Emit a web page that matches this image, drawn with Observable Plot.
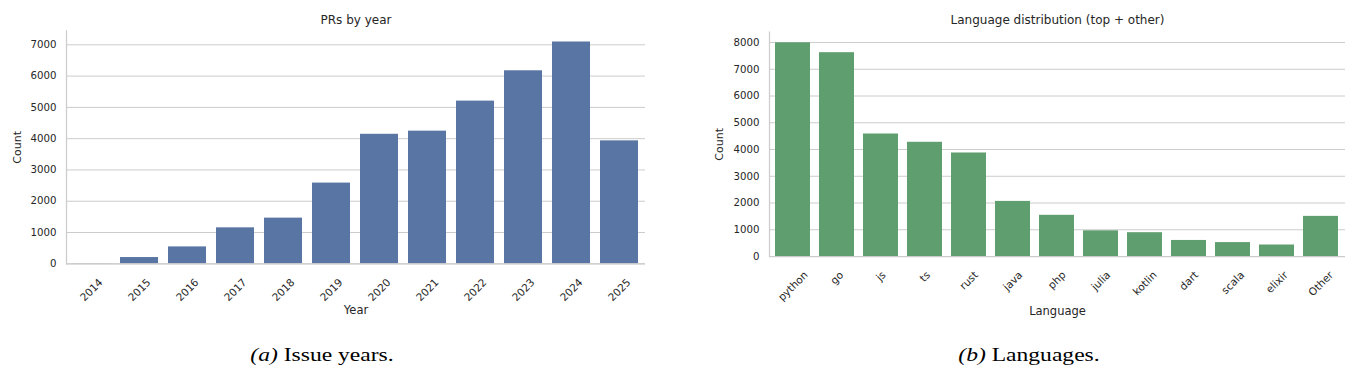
<!DOCTYPE html>
<html>
<head>
<meta charset="utf-8">
<script src="https://cdn.jsdelivr.net/npm/d3@7"></script>
<script src="https://cdn.jsdelivr.net/npm/@observablehq/plot@0.6"></script>
<style>
  html, body { margin: 0; padding: 0; background: #ffffff; }
  #root { position: relative; width: 1355px; height: 369px; overflow: hidden; background: #ffffff; }
  .panel { position: absolute; top: 0; }
  .caption { position: absolute; font-family: "Liberation Serif", "Times New Roman", serif; font-size: 19px; line-height: 1; color: #000; text-align: center; white-space: nowrap; transform: scaleX(1.24); transform-origin: center; }
</style>
</head>
<body>
<div id="root">
  <div id="left" class="panel" style="left:0px"></div>
  <div id="right" class="panel" style="left:680px"></div>
  <div class="caption" style="left:222px; top:345px; width:200px;"><i>(a)</i> Issue years.</div>
  <div class="caption" style="left:929px; top:345px; width:200px;"><i>(b)</i> Languages.</div>
</div>
<script>
// ---- data ----
const years = ["2014", "2015", "2016", "2017", "2018", "2019", "2020", "2021", "2022", "2023", "2024", "2025"];
const prCounts = [5, 200, 540, 1150, 1460, 2580, 4140, 4240, 5200, 6170, 7090, 3930];
const yearTicks = [0, 1000, 2000, 3000, 4000, 5000, 6000, 7000];

const languages = ["python", "go", "js", "ts", "rust", "java", "php", "julia", "kotlin", "dart", "scala", "elixir", "Other"];
const langCounts = [7990, 7620, 4580, 4270, 3870, 2060, 1540, 960, 890, 600, 520, 430, 1500];
const langTicks = [0, 1000, 2000, 3000, 4000, 5000, 6000, 7000, 8000];

const leftTitle = "PRs by year";
const rightTitle = "Language distribution (top + other)";

// ---- drawing ----
const TEXT = "#262626";
const SPINE = "#cccccc";
const FONT = "'DejaVu Sans'";
const tickFont = 10.2;
const xTickFont = 10.5;
const ctx = document.createElement("canvas").getContext("2d");
ctx.font = `${xTickFont}px 'DejaVu Sans'`;

function panel(o) {
  const data = o.cats.map((c, i) => ({cat: c, val: o.vals[i]}));
  const ymax = d3.max(o.vals) * 1.05;
  const xLabels = o.cats.map(c => {
    const w = ctx.measureText(c).width;
    const dy = 12.5 + (w + 1.15 * xTickFont) * Math.SQRT1_2 / 2;
    return Plot.text([c], {
      x: d => d, text: d => d, frameAnchor: "bottom", dy,
      rotate: -45, textAnchor: "middle", lineAnchor: "middle",
      fontSize: xTickFont, fill: TEXT
    });
  });
  return Plot.plot({
    width: o.width, height: o.height,
    marginTop: o.mt, marginBottom: o.mb, marginLeft: o.ml, marginRight: o.mr,
    style: `font-family: ${FONT}; font-size: 10px; background: #ffffff; color: ${TEXT};`,
    x: {domain: o.cats, paddingInner: 0.2, paddingOuter: 0.1, axis: null},
    y: {domain: [0, ymax]},
    marks: [
      Plot.gridY(o.ticks, {stroke: SPINE, strokeOpacity: 1, strokeWidth: 1}),
      Plot.barY(data, {x: "cat", y: "val", fill: o.color}),
      Plot.ruleY([0], {stroke: SPINE, strokeWidth: 1.25}),
      Plot.frame({anchor: "left", stroke: SPINE, strokeWidth: 1.25}),
      Plot.axisY(o.ticks, {tickSize: 0, tickPadding: 10, tickFormat: d => String(d), fontSize: tickFont, fill: TEXT, label: null}),
      ...xLabels,
      Plot.text([o.title], {text: d => d, frameAnchor: "top", dy: o.titleDy, lineAnchor: "middle", fontSize: 12, fill: TEXT}),
      Plot.text([o.xlabel], {text: d => d, frameAnchor: "bottom", dy: o.xlabelDy, lineAnchor: "middle", fontSize: 11.5, fill: TEXT}),
      Plot.text(["Count"], {text: d => d, frameAnchor: "left", dx: o.ylabelDx, rotate: -90, textAnchor: "middle", lineAnchor: "middle", fontSize: 11, fill: TEXT})
    ]
  });
}

document.getElementById("left").appendChild(panel({
  cats: years, vals: prCounts, ticks: yearTicks, color: "#5875a4",
  width: 680, height: 330, mt: 30.4, mb: 66.7, ml: 66, mr: 35,
  title: leftTitle, xlabel: "Year", titleDy: -11, xlabelDy: 47, ylabelDx: -49
}));

document.getElementById("right").appendChild(panel({
  cats: languages, vals: langCounts, ticks: langTicks, color: "#5f9e6e",
  width: 675, height: 330, mt: 31.6, mb: 74, ml: 89, mr: 10,
  title: rightTitle, xlabel: "Language", titleDy: -11.6, xlabelDy: 55, ylabelDx: -50
}));
</script>
</body>
</html>
